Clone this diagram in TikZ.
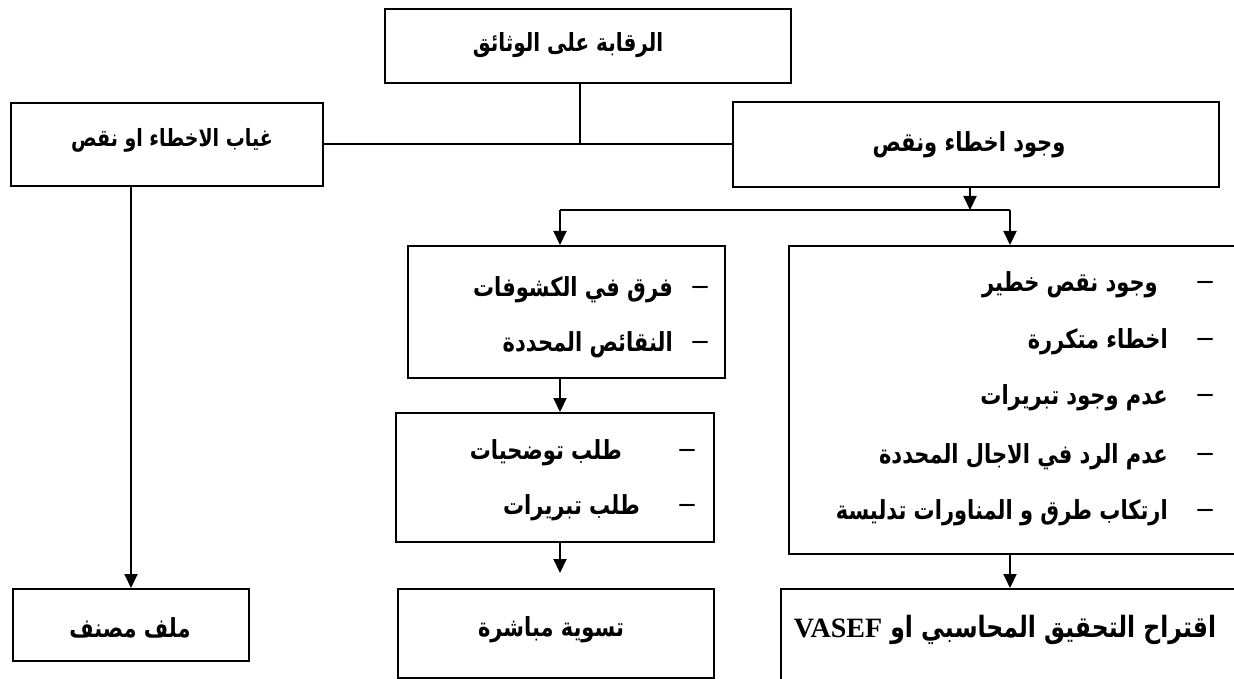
\documentclass[tikz,border=0pt]{standalone}
\usepackage{fontspec}
\usepackage{graphicx}
\usetikzlibrary{arrows.meta}
\TeXXeTstate=1
\setmainfont{Liberation Serif}
\newfontfamily\arabicfont[Script=Arabic]{DejaVu Sans}
\newcommand\tallar[1]{\scalebox{1}[1.25]{\beginR #1\endR}}
\tikzset{
  box/.style={draw, line width=2pt, rectangle, inner sep=0pt, anchor=north west},
  arr/.style={line width=2pt, -{Triangle[length=14pt,width=13pt]}},
  conn/.style={line width=2pt},
  lbl/.style={font=\arabicfont\bfseries\fontsize{21}{25}\selectfont, inner sep=0pt},
  bulletdash/.style={font=\rmfamily\bfseries\fontsize{30}{30}\selectfont, inner sep=0pt}
}
\begin{document}
\begin{tikzpicture}[x=1pt,y=-1pt]
\useasboundingbox (0,0) rectangle (1234,679);
\clip (0,0) rectangle (1234,679);
% boxes
\node[box, minimum width=406pt, minimum height=74pt] (top) at (384,8) {};
\node[box, minimum width=312pt, minimum height=83pt] (A) at (10,102) {};
\node[box, minimum width=486pt, minimum height=85pt] (B) at (732,101) {};
\node[box, minimum width=317pt, minimum height=132pt] (C) at (407,245) {};
\node[box, minimum width=460pt, minimum height=308pt] (D) at (788,245) {};
\node[box, minimum width=318pt, minimum height=129pt] (E) at (395,412) {};
\node[box, minimum width=236pt, minimum height=72pt] (F) at (12,588) {};
\node[box, minimum width=316pt, minimum height=89pt] (G) at (397,588) {};
\node[box, minimum width=470pt, minimum height=100pt] (H) at (780,588) {};
% texts
\node[lbl, font=\arabicfont\bfseries\fontsize{20}{24}\selectfont] (tTop) at (568,45) {\tallar{الرقابة على الوثائق}};
\node[lbl, font=\arabicfont\bfseries\fontsize{19}{23}\selectfont] (tA) at (172,140) {\tallar{غياب الاخطاء او نقص}};
\node[lbl] (tB) at (969,145) {\tallar{وجود اخطاء ونقص}};
\node[bulletdash] (dC1) at (700,290) {–};
\node[lbl, anchor=east] (tC1) at (673,290) {\tallar{فرق في الكشوفات}};
\node[bulletdash] (dC2) at (700,345) {–};
\node[lbl, anchor=east] (tC2) at (673,345) {\tallar{النقائص المحددة}};
\node[bulletdash] (dE1) at (687,453) {–};
\node[lbl, anchor=east] (tE1) at (622,453) {\tallar{طلب توضحيات}};
\node[bulletdash] (dE2) at (687,508) {–};
\node[lbl, anchor=east] (tE2) at (640,508) {\tallar{طلب تبريرات}};
\node[bulletdash] (dD1) at (1205,285) {–};
\node[lbl, anchor=east] (tD1) at (1158,285) {\tallar{وجود نقص خطير}};
\node[bulletdash] (dD2) at (1205,342) {–};
\node[lbl, anchor=east] (tD2) at (1168,342) {\tallar{اخطاء متكررة}};
\node[bulletdash] (dD3) at (1205,398) {–};
\node[lbl, anchor=east] (tD3) at (1168,398) {\tallar{عدم وجود تبريرات}};
\node[bulletdash] (dD4) at (1205,457) {–};
\node[lbl, anchor=east] (tD4) at (1168,457) {\tallar{عدم الرد في الاجال المحددة}};
\node[bulletdash] (dD5) at (1205,513) {–};
\node[lbl, anchor=east] (tD5) at (1168,513) {\tallar{ارتكاب طرق و المناورات تدليسة}};
\node[lbl] (tF) at (130,628) {\tallar{ملف مصنف}};
\node[lbl] (tG) at (551,630) {\tallar{تسوية مباشرة}};
\node[lbl, font=\arabicfont\bfseries\fontsize{23.5}{27}\selectfont] (tH) at (1005,630) {{\rmfamily\bfseries\fontsize{28}{30}\selectfont VASEF} \tallar{اقتراح التحقيق المحاسبي او}};
% connectors
\coordinate (J) at (580,144);
\coordinate (S) at (970,210);
\coordinate (SL) at (560,210);
\coordinate (SR) at (1010,210);
\coordinate (T) at (560,573);
\draw[conn] (top.south -| J) -- (J);
\draw[conn] (A.east) -- (B.west);
\draw[arr] (B.south -| S) -- (S);
\draw[conn] (SL) -- (SR);
\draw[arr] (SL) -- (SL |- C.north);
\draw[arr] (SR) -- (SR |- D.north);
\draw[arr] (C.south -| SL) -- (E.north -| SL);
\draw[arr] (E.south -| SL) -- (T);
\draw[arr] (D.south -| SR) -- (H.north -| SR);
\draw[arr] (F.north |- A.south) -- (F.north);
\end{tikzpicture}
\end{document}
